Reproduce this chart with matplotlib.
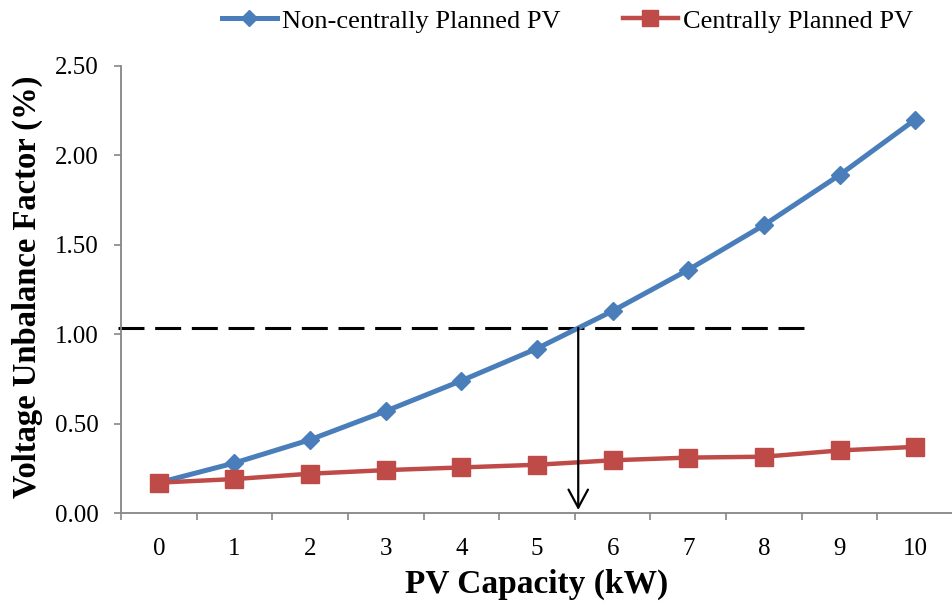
import matplotlib
matplotlib.use("Agg")
import matplotlib.pyplot as plt
import numpy as np

capacity = ["0", "1", "2", "3", "4", "5", "6", "7", "8", "9", "10"]
non_central = [0.17, 0.28, 0.41, 0.57, 0.74, 0.92, 1.13, 1.36, 1.61, 1.89, 2.20]
central = [0.17, 0.19, 0.22, 0.24, 0.255, 0.27, 0.295, 0.31, 0.315, 0.35, 0.37]
threshold = 1.035
cross_x = 5.545
y_ticks = [0.0, 0.5, 1.0, 1.5, 2.0, 2.5]

plt.rcParams['font.family'] = ['Liberation Serif', 'DejaVu Serif']

fig = plt.figure(figsize=(9.53, 6.05), dpi=100)
ax = fig.add_axes([0.127, 0.152, 0.873, 0.739])

x = np.arange(len(capacity))
blue = '#4A7EBB'
red = '#BE4B48'
ax.plot(x, non_central, color=blue, lw=3.6, marker='D', ms=9.5,
        mec=blue, mfc=blue, label='Non-centrally Planned PV', zorder=3)
ax.plot(x, central, color=red, lw=3.2, marker='s', ms=13.5,
        mec=red, mfc=red, label='Centrally Planned PV', zorder=4)

ax.plot([-0.545, 8.63], [threshold, threshold], color='black', lw=2.2,
        linestyle=(0, (8.5, 3.5)), zorder=2, clip_on=False)
ax.annotate('', xy=(cross_x, 0.017), xytext=(cross_x, threshold),
            arrowprops=dict(arrowstyle='->,head_length=1.3,head_width=0.7',
                            color='black', lw=1.6, shrinkA=0, shrinkB=0),
            zorder=5)

ax.set_xlim(-0.5, len(capacity) - 0.5)
ax.set_ylim(0, 2.5)
ax.set_yticks(y_ticks)
ax.set_yticklabels([f"{v:.2f}" for v in y_ticks])
ax.set_xticks(x)
ax.set_xticklabels(capacity)
ax.set_xticks(np.arange(-0.5, len(capacity), 1.0), minor=True)
ax.tick_params(axis='x', which='major', length=0, pad=18, labelsize=18)
ax.tick_params(axis='x', which='minor', length=5, width=1.2, color='#868686', direction='out')
ax.tick_params(axis='y', which='major', length=5, width=1.2, color='#868686', direction='out',
               pad=11, labelsize=18)

for s in ['top', 'right']:
    ax.spines[s].set_visible(False)
for s in ['left', 'bottom']:
    ax.spines[s].set_color('#868686')
    ax.spines[s].set_linewidth(1.3)

ax.set_xlabel('PV Capacity (kW)', fontsize=24, fontweight='bold', va='top')
ax.xaxis.set_label_coords(0.5, -0.1245)
ax.set_ylabel('Voltage Unbalance Factor (%)', fontsize=23.5, fontweight='bold')
ax.yaxis.set_label_coords(-0.094, 0.505)

fig.legend(loc='center left', bbox_to_anchor=(222 / 953, 1 - 21 / 605), ncol=2, frameon=False,
           fontsize=19, handlelength=2.08, columnspacing=2.37, handletextpad=0.19,
           borderaxespad=0, borderpad=0, markerscale=0.85)

fig.savefig('out.png', dpi=100)
